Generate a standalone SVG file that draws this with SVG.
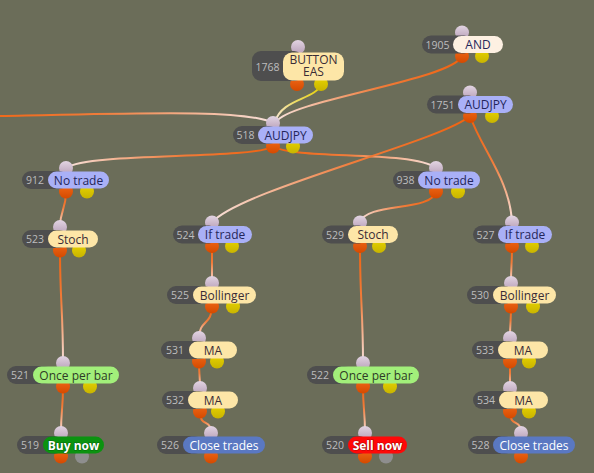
<svg xmlns="http://www.w3.org/2000/svg" xmlns:xlink="http://www.w3.org/1999/xlink" width="594" height="473" viewBox="0 0 594 473">
<defs>
<linearGradient id="go"><stop offset="0" stop-color="#f0620f"/><stop offset="0.45" stop-color="#f07c3a"/><stop offset="1" stop-color="#f8e2dc"/></linearGradient>
<linearGradient id="gy"><stop offset="0" stop-color="#e6d000"/><stop offset="0.5" stop-color="#eedc60"/><stop offset="1" stop-color="#f8e6dc"/></linearGradient>
<linearGradient id="gin" x1="0" y1="0" x2="0" y2="1"><stop offset="0" stop-color="#e2d4e2"/><stop offset="1" stop-color="#b8a0b8"/></linearGradient>
<linearGradient id="gout" x1="0" y1="0" x2="0" y2="1"><stop offset="0" stop-color="#f06818"/><stop offset="1" stop-color="#d44a00"/></linearGradient>
<linearGradient id="gyl" x1="0" y1="0" x2="0" y2="1"><stop offset="0" stop-color="#e8d400"/><stop offset="1" stop-color="#c8b400"/></linearGradient>
<linearGradient id="e0" href="#go" gradientUnits="userSpaceOnUse" x1="-40" y1="116" x2="273" y2="123"/>
<linearGradient id="e1" href="#gy" gradientUnits="userSpaceOnUse" x1="321" y1="84" x2="275" y2="122"/>
<linearGradient id="e2" href="#go" gradientUnits="userSpaceOnUse" x1="462" y1="56" x2="276" y2="122"/>
<linearGradient id="e3" href="#go" gradientUnits="userSpaceOnUse" x1="273" y1="146" x2="66" y2="168"/>
<linearGradient id="e4" href="#go" gradientUnits="userSpaceOnUse" x1="273" y1="146" x2="436" y2="168"/>
<linearGradient id="e5" href="#go" gradientUnits="userSpaceOnUse" x1="470" y1="116" x2="212" y2="222"/>
<linearGradient id="e6" href="#go" gradientUnits="userSpaceOnUse" x1="470" y1="116" x2="512" y2="222"/>
<linearGradient id="e7" href="#go" gradientUnits="userSpaceOnUse" x1="66" y1="191" x2="60" y2="227"/>
<linearGradient id="e8" href="#go" gradientUnits="userSpaceOnUse" x1="436" y1="191" x2="360" y2="222"/>
<linearGradient id="e9" href="#go" gradientUnits="userSpaceOnUse" x1="60" y1="250" x2="63" y2="363"/>
<linearGradient id="e10" href="#go" gradientUnits="userSpaceOnUse" x1="63" y1="386" x2="61" y2="433"/>
<linearGradient id="e11" href="#go" gradientUnits="userSpaceOnUse" x1="212" y1="246" x2="212" y2="283"/>
<linearGradient id="e12" href="#go" gradientUnits="userSpaceOnUse" x1="212" y1="306" x2="199" y2="338"/>
<linearGradient id="e13" href="#go" gradientUnits="userSpaceOnUse" x1="199" y1="361" x2="200" y2="388"/>
<linearGradient id="e14" href="#go" gradientUnits="userSpaceOnUse" x1="200" y1="411" x2="211" y2="433"/>
<linearGradient id="e15" href="#go" gradientUnits="userSpaceOnUse" x1="360" y1="246" x2="363" y2="363"/>
<linearGradient id="e16" href="#go" gradientUnits="userSpaceOnUse" x1="363" y1="386" x2="365" y2="433"/>
<linearGradient id="e17" href="#go" gradientUnits="userSpaceOnUse" x1="512" y1="246" x2="511" y2="283"/>
<linearGradient id="e18" href="#go" gradientUnits="userSpaceOnUse" x1="511" y1="306" x2="510" y2="338"/>
<linearGradient id="e19" href="#go" gradientUnits="userSpaceOnUse" x1="510" y1="361" x2="510" y2="388"/>
<linearGradient id="e20" href="#go" gradientUnits="userSpaceOnUse" x1="510" y1="411" x2="521" y2="433"/>
</defs>
<style>
.e{fill:none;stroke-width:2;stroke-linecap:round}
.in{fill:url(#gin)}
.out{fill:url(#gout)}
.yl{fill:url(#gyl)}
.gr{fill:#8e8e8e}
.dk{fill:#4e4e4e}
.id{font-family:"Open Sans","DejaVu Sans",sans-serif;font-size:10.5px;fill:#bdbdbd;text-anchor:middle}
.lb{font-family:"Open Sans","DejaVu Sans",sans-serif;font-size:12px;text-anchor:middle}
.lav{fill:#a9b0f7}
.yel{fill:#fde6a7}
.crm{fill:#fdf0e2}
.grn{fill:#a2ef7a}
.buy{fill:#0b9310}
.sell{fill:#ff0808}
.cls{fill:#5a78c2}
.tl{fill:#24265a}
.ty{fill:#3a2c36}
.tg{fill:#2e3a26}
.tw{fill:#ffffff}
.tb{fill:#ffffff;font-weight:bold;stroke:#00000055;stroke-width:1.2px;paint-order:stroke}
</style>
<rect width="594" height="473" fill="#6b6d59"/>
<g id="connectors">
<path class="e" stroke="url(#e0)" d="M -2 116 C 120 114, 245 108, 273 123"/>
<path class="e" stroke="url(#e1)" d="M 321 84 C 316 100, 282 98, 275 122"/>
<path class="e" stroke="url(#e2)" d="M 462 56 C 452 80, 290 100, 276 122"/>
<path class="e" stroke="url(#e3)" d="M 273 146.5 C 250 160, 90 152, 66 168"/>
<path class="e" stroke="url(#e4)" d="M 273 146.5 C 296 160, 412 150, 436 168"/>
<path class="e" stroke="url(#e5)" d="M 470 116 C 440 142, 240 190, 212 222.5"/>
<path class="e" stroke="url(#e6)" d="M 470 116 C 482 150, 510 180, 512 222.5"/>
<path class="e" stroke="url(#e7)" d="M 66 191.5 C 66 210, 60 210, 60 227"/>
<path class="e" stroke="url(#e8)" d="M 436 191.5 C 432 212, 366 202, 360 222.5"/>
<path class="e" stroke="url(#e9)" d="M 60 250.5 C 60 300, 63 310, 63 363"/>
<path class="e" stroke="url(#e10)" d="M 63 386.5 C 63 410, 61 410, 61 433"/>
<path class="e" stroke="url(#e11)" d="M 212 246 C 212 265, 212 265, 212 283"/>
<path class="e" stroke="url(#e12)" d="M 212 306.5 C 212 325, 199 320, 199 338"/>
<path class="e" stroke="url(#e13)" d="M 199 361.5 C 199 375, 200 375, 200 388"/>
<path class="e" stroke="url(#e14)" d="M 200 411.5 C 200 428, 211 418, 211 433"/>
<path class="e" stroke="url(#e15)" d="M 360 246 C 360 300, 363 310, 363 363"/>
<path class="e" stroke="url(#e16)" d="M 363 386.5 C 363 410, 365 410, 365 433"/>
<path class="e" stroke="url(#e17)" d="M 512 246 C 512 265, 511 265, 511 283"/>
<path class="e" stroke="url(#e18)" d="M 511 306.5 C 511 322, 510 322, 510 338"/>
<path class="e" stroke="url(#e19)" d="M 510 361.5 C 510 375, 510 375, 510 388"/>
<path class="e" stroke="url(#e20)" d="M 510 411.5 C 510 428, 521 418, 521 433"/>
</g>
<g id="n1905">
<circle class="in" cx="462" cy="32.5" r="7"/><circle class="out" cx="462" cy="56" r="7"/><circle class="yl" cx="482" cy="56" r="7"/>
<rect class="dk" x="422" y="35.5" width="51" height="18" rx="9"/><rect class="crm" x="453" y="36" width="50" height="17" rx="8.5"/>
<text class="id" x="437.5" y="48.5">1905</text><text class="lb tl" x="478" y="49">AND</text>
</g>
<g id="n1768">
<circle class="in" cx="298" cy="47" r="7"/><circle class="out" cx="297" cy="84" r="7"/><circle class="yl" cx="321" cy="84" r="7"/>
<rect class="dk" x="252" y="51" width="51" height="30" rx="9"/><rect class="yel" x="283" y="52.5" width="61" height="28" rx="9"/>
<text class="id" x="267.5" y="70.5">1768</text><text class="lb ty" x="313.5" y="63.5">BUTTON<tspan x="313.5" dy="12.5">EAS</tspan></text>
</g>
<g id="n1751">
<circle class="in" cx="470" cy="92.5" r="7"/><circle class="out" cx="470" cy="116" r="7"/><circle class="yl" cx="492" cy="116" r="7"/>
<rect class="dk" x="427" y="95.5" width="51" height="18" rx="9"/><rect class="lav" x="458" y="96" width="55" height="17" rx="8.5"/>
<text class="id" x="442.5" y="108.5">1751</text><text class="lb tl" x="485.5" y="109">AUDJPY</text>
</g>
<g id="n518">
<circle class="in" cx="273" cy="123" r="7"/><circle class="out" cx="273" cy="146.5" r="7"/><circle class="yl" cx="293" cy="146.5" r="7"/>
<rect class="dk" x="233" y="126" width="45" height="18" rx="9"/><rect class="lav" x="258" y="126.5" width="55" height="17" rx="8.5"/>
<text class="id" x="245.5" y="139">518</text><text class="lb tl" x="285.5" y="139.5">AUDJPY</text>
</g>
<g id="n912">
<circle class="in" cx="66" cy="168" r="7"/><circle class="out" cx="66" cy="191.5" r="7"/><circle class="yl" cx="87" cy="191.5" r="7"/>
<rect class="dk" x="22" y="171" width="46" height="18" rx="9"/><rect class="lav" x="48" y="171.5" width="61" height="17" rx="8.5"/>
<text class="id" x="35" y="184">912</text><text class="lb tl" x="78.5" y="184.5">No trade</text>
</g>
<g id="n938">
<circle class="in" cx="436" cy="168" r="7"/><circle class="out" cx="436" cy="191.5" r="7"/><circle class="yl" cx="458" cy="191.5" r="7"/>
<rect class="dk" x="393" y="171" width="45" height="18" rx="9"/><rect class="lav" x="418" y="171.5" width="62" height="17" rx="8.5"/>
<text class="id" x="405.5" y="184">938</text><text class="lb tl" x="449" y="184.5">No trade</text>
</g>
<g id="n523">
<circle class="in" cx="60" cy="227" r="7"/><circle class="out" cx="60" cy="250.5" r="7"/><circle class="yl" cx="79" cy="250.5" r="7"/>
<rect class="dk" x="22" y="230" width="46" height="18" rx="9"/><rect class="yel" x="48" y="230.5" width="50" height="17" rx="8.5"/>
<text class="id" x="35" y="243">523</text><text class="lb ty" x="73" y="243.5">Stoch</text>
</g>
<g id="n524">
<circle class="in" cx="212" cy="222.5" r="7"/><circle class="out" cx="212" cy="246" r="7"/><circle class="yl" cx="232" cy="246" r="7"/>
<rect class="dk" x="173" y="225.5" width="45" height="18" rx="9"/><rect class="lav" x="198" y="226" width="54" height="17" rx="8.5"/>
<text class="id" x="185.5" y="238.5">524</text><text class="lb tl" x="225" y="239">If trade</text>
</g>
<g id="n529">
<circle class="in" cx="360" cy="222.5" r="7"/><circle class="out" cx="360" cy="246" r="7"/><circle class="yl" cx="379" cy="246" r="7"/>
<rect class="dk" x="322" y="225.5" width="46" height="18" rx="9"/><rect class="yel" x="348" y="226" width="50" height="17" rx="8.5"/>
<text class="id" x="335" y="238.5">529</text><text class="lb ty" x="373" y="239">Stoch</text>
</g>
<g id="n527">
<circle class="in" cx="512" cy="222.5" r="7"/><circle class="out" cx="512" cy="246" r="7"/><circle class="yl" cx="532" cy="246" r="7"/>
<rect class="dk" x="473" y="225.5" width="45" height="18" rx="9"/><rect class="lav" x="498" y="226" width="54" height="17" rx="8.5"/>
<text class="id" x="485.5" y="238.5">527</text><text class="lb tl" x="525" y="239">If trade</text>
</g>
<g id="n525">
<circle class="in" cx="212" cy="283" r="7"/><circle class="out" cx="212" cy="306.5" r="7"/><circle class="yl" cx="233" cy="306.5" r="7"/>
<rect class="dk" x="167" y="286" width="46" height="18" rx="9"/><rect class="yel" x="193" y="286.5" width="63" height="17" rx="8.5"/>
<text class="id" x="180" y="299">525</text><text class="lb ty" x="224.5" y="299.5">Bollinger</text>
</g>
<g id="n530">
<circle class="in" cx="511" cy="283" r="7"/><circle class="out" cx="511" cy="306.5" r="7"/><circle class="yl" cx="533" cy="306.5" r="7"/>
<rect class="dk" x="467" y="286" width="46" height="18" rx="9"/><rect class="yel" x="493" y="286.5" width="63" height="17" rx="8.5"/>
<text class="id" x="480" y="299">530</text><text class="lb ty" x="524.5" y="299.5">Bollinger</text>
</g>
<g id="n531">
<circle class="in" cx="199" cy="338" r="7"/><circle class="out" cx="199" cy="361.5" r="7"/><circle class="yl" cx="217" cy="361.5" r="7"/>
<rect class="dk" x="161" y="341" width="48" height="18" rx="9"/><rect class="yel" x="189" y="341.5" width="48" height="17" rx="8.5"/>
<text class="id" x="175" y="354">531</text><text class="lb ty" x="213" y="354.5">MA</text>
</g>
<g id="n533">
<circle class="in" cx="510" cy="338" r="7"/><circle class="out" cx="510" cy="361.5" r="7"/><circle class="yl" cx="529" cy="361.5" r="7"/>
<rect class="dk" x="472" y="341" width="46" height="18" rx="9"/><rect class="yel" x="498" y="341.5" width="50" height="17" rx="8.5"/>
<text class="id" x="485" y="354">533</text><text class="lb ty" x="523" y="354.5">MA</text>
</g>
<g id="n521">
<circle class="in" cx="63" cy="363" r="7"/><circle class="out" cx="63" cy="386.5" r="7"/><circle class="yl" cx="90" cy="386.5" r="7"/>
<rect class="dk" x="7" y="366" width="46" height="18" rx="9"/><rect class="grn" x="33" y="366.5" width="86" height="17" rx="8.5"/>
<text class="id" x="20" y="379">521</text><text class="lb tg" x="76" y="379.5">Once per bar</text>
</g>
<g id="n522">
<circle class="in" cx="363" cy="363" r="7"/><circle class="out" cx="363" cy="386.5" r="7"/><circle class="yl" cx="390" cy="386.5" r="7"/>
<rect class="dk" x="307" y="366" width="46" height="18" rx="9"/><rect class="grn" x="333" y="366.5" width="86" height="17" rx="8.5"/>
<text class="id" x="320" y="379">522</text><text class="lb tg" x="376" y="379.5">Once per bar</text>
</g>
<g id="n532">
<circle class="in" cx="200" cy="388" r="7"/><circle class="out" cx="200" cy="411.5" r="7"/><circle class="yl" cx="218" cy="411.5" r="7"/>
<rect class="dk" x="162" y="391" width="46" height="18" rx="9"/><rect class="yel" x="188" y="391.5" width="50" height="17" rx="8.5"/>
<text class="id" x="175" y="404">532</text><text class="lb ty" x="213" y="404.5">MA</text>
</g>
<g id="n534">
<circle class="in" cx="510" cy="388" r="7"/><circle class="out" cx="510" cy="411.5" r="7"/><circle class="yl" cx="529" cy="411.5" r="7"/>
<rect class="dk" x="473" y="391" width="46" height="18" rx="9"/><rect class="yel" x="499" y="391.5" width="49" height="17" rx="8.5"/>
<text class="id" x="486" y="404">534</text><text class="lb ty" x="523.5" y="404.5">MA</text>
</g>
<g id="n519">
<circle class="in" cx="61" cy="433" r="7"/><circle class="out" cx="61" cy="456.5" r="7"/><circle class="gr" cx="82" cy="456.5" r="7"/>
<rect class="dk" x="17" y="436" width="46" height="18" rx="9"/><rect class="buy" x="43" y="436.5" width="61" height="17" rx="8.5"/>
<text class="id" x="30" y="449">519</text><text class="lb tb" x="73.5" y="449.5">Buy now</text>
</g>
<g id="n526">
<circle class="in" cx="211" cy="433" r="7"/><circle class="out" cx="211" cy="456.5" r="7"/>
<rect class="dk" x="157" y="436" width="46" height="18" rx="9"/><rect class="cls" x="183" y="436.5" width="82" height="17" rx="8.5"/>
<text class="id" x="170" y="449">526</text><text class="lb tw" x="224" y="449.5">Close trades</text>
</g>
<g id="n520">
<circle class="in" cx="365" cy="433" r="7"/><circle class="out" cx="365" cy="456.5" r="7"/><circle class="gr" cx="386" cy="456.5" r="7"/>
<rect class="dk" x="322" y="436" width="46" height="18" rx="9"/><rect class="sell" x="348" y="436.5" width="59" height="17" rx="8.5"/>
<text class="id" x="335" y="449">520</text><text class="lb tb" x="377.5" y="449.5">Sell now</text>
</g>
<g id="n528">
<circle class="in" cx="521" cy="433" r="7"/><circle class="out" cx="521" cy="456.5" r="7"/>
<rect class="dk" x="468" y="436" width="45" height="18" rx="9"/><rect class="cls" x="493" y="436.5" width="82" height="17" rx="8.5"/>
<text class="id" x="480.5" y="449">528</text><text class="lb tw" x="534" y="449.5">Close trades</text>
</g>
</svg>
